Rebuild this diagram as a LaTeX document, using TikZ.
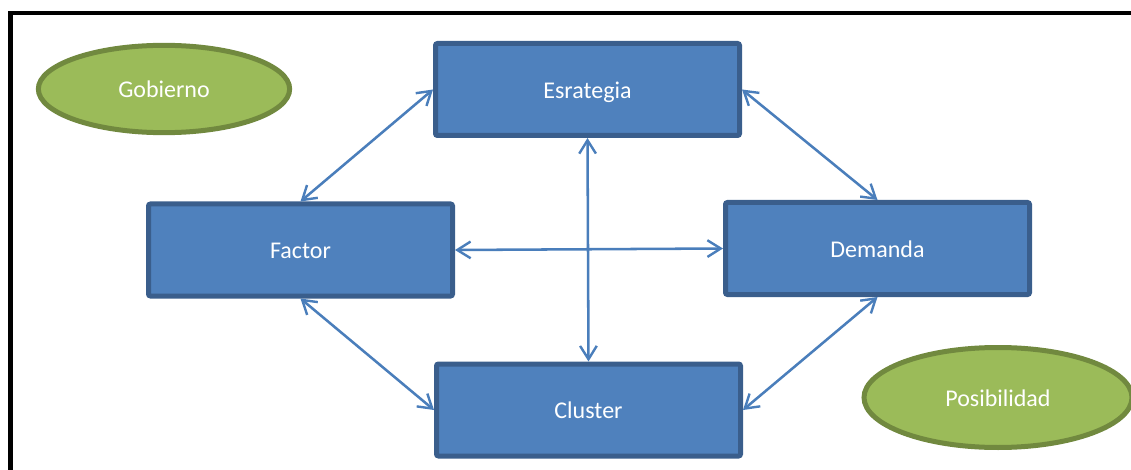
\documentclass[tikz,border=0pt]{standalone}
\usepackage{fontspec}
\setmainfont{Carlito}
\usetikzlibrary{arrows.meta,shapes.geometric}
\definecolor{boxfill}{HTML}{4F81BD}
\definecolor{boxline}{HTML}{3A5E8C}
\definecolor{ovalfill}{HTML}{9BBB59}
\definecolor{ovalline}{HTML}{71893F}
\definecolor{linkcol}{HTML}{4A7EBB}
\tikzset{
  label font/.style={text=white, font=\fontsize{18}{20}\selectfont,
    text height=13pt, text depth=0pt},
  block/.style={rectangle, rounded corners=1.5pt, fill=boxfill, draw=boxline,
    line width=3.75pt, minimum width=228pt, minimum height=69pt,
    inner sep=0pt, label font},
  oval/.style={ellipse, fill=ovalfill, draw=ovalline, line width=3.75pt,
    inner sep=0pt, label font},
  link/.style={draw=linkcol, line width=1.9pt,
    {Straight Barb[length=10pt,width=12.5pt,line width=1.8pt]}-{Straight Barb[length=10pt,width=12.5pt,line width=1.8pt]}},
  frame/.style={draw=black, line width=3.4pt}
}
\begin{document}
\begin{tikzpicture}[x=0.75pt, y=-0.75pt]
\useasboundingbox (0,0) rectangle (1131,470);
% page frame
\draw[frame] (10.5,472) -- (10.5,13) -- (1133,13);

% ovals
\node[oval, minimum width=188.5pt, minimum height=65.5pt] (gob) at (164,89) {Gobierno};
\node[oval, minimum width=201pt, minimum height=75pt] (pos) at (998,397.5) {Posibilidad};

% blocks
\node[block] (esr) at (587.5,89.5) {Esrategia};
\node[block] (fac) at (300.5,250) {Factor};
\node[block] (dem) at (877.5,248.5) {Demanda};
\node[block] (clu) at (588.5,410) {Cluster};

% links
\draw[link] (esr.west) -- (fac.north);
\draw[link] (esr.east) -- (dem.north);
\draw[link] (fac.south) -- (clu.west);
\draw[link] (dem.south) -- (clu.east);
\draw[link] (fac.east) -- (dem.west);
\draw[link] (esr.south) -- (clu.north);
\end{tikzpicture}
\end{document}
